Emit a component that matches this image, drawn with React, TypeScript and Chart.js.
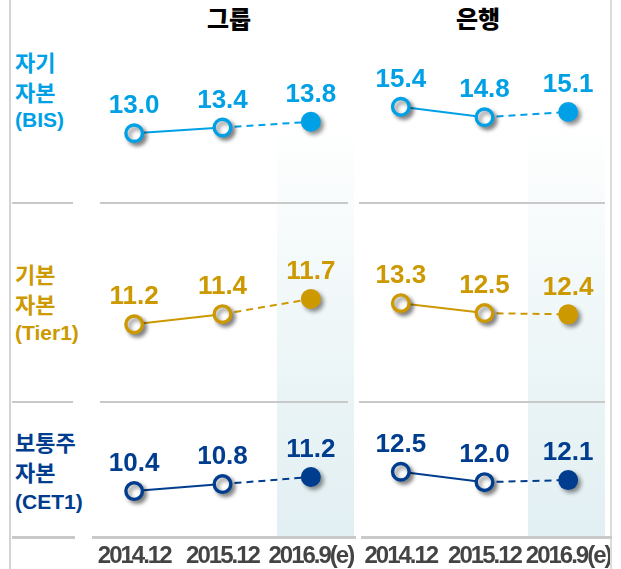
import React, { useEffect, useRef } from 'react';
import { Chart, registerables } from 'chart.js';

Chart.register(...registerables);

// ---- data ----
const periods = ['2014.12', '2015.12', '2016.9(e)'];
const columnTitles = ['그룹', '은행'];
const rowTitles = [
  ['자기', '자본', '(BIS)'],
  ['기본', '자본', '(Tier1)'],
  ['보통주', '자본', '(CET1)'],
];
const groupBIS = [13.0, 13.4, 13.8];
const bankBIS = [15.4, 14.8, 15.1];
const groupTier1 = [11.2, 11.4, 11.7];
const bankTier1 = [13.3, 12.5, 12.4];
const groupCET1 = [10.4, 10.8, 11.2];
const bankCET1 = [12.5, 12.0, 12.1];

// ---- styling / layout ----
const rowColors = ['#00a0e6', '#cc9900', '#003d8f'];
const rowBoxes = [
  { top: 30, height: 170 },
  { top: 210, height: 190 },
  { top: 410, height: 159 },
];
const colBoxes = [
  { left: 90, width: 265 },
  { left: 359, width: 251 },
];
// y-axis ranges per panel [row][col]
const yRanges = [
  [[8.36, 20.18], [10.07, 19.79]],
  [[9.71, 13.45], [5.47, 20.84]],
  [[7.89, 15.03], [9.45, 15.48]],
];
const panelValues = [
  [groupBIS, bankBIS],
  [groupTier1, bankTier1],
  [groupCET1, bankCET1],
];
const rowTitleCenters = [
  [61, 91, 120],
  [273, 303, 333],
  [441, 471, 502],
];

type PanelProps = {
  values: number[];
  color: string;
  yMin: number;
  yMax: number;
  left: number;
  top: number;
  width: number;
  height: number;
  showAxis: boolean;
};

function Panel(p: PanelProps) {
  const ref = useRef<HTMLCanvasElement>(null);
  useEffect(() => {
    const canvas = ref.current;
    if (!canvas) return;
    const last = p.values.length - 1;

    const shadowPlugin = {
      id: 'markerShadow',
      beforeDatasetDraw(chart: any, args: any) {
        if (args.index === 0) {
          const c = chart.ctx;
          c.save();
          c.shadowColor = 'rgba(0,0,0,0.45)';
          c.shadowBlur = 4;
          c.shadowOffsetX = 3;
          c.shadowOffsetY = 3;
        }
      },
      afterDatasetDraw(chart: any, args: any) {
        if (args.index === 0) chart.ctx.restore();
      },
    };
    const labelPlugin = {
      id: 'valueLabels',
      afterDatasetsDraw(chart: any) {
        const c = chart.ctx;
        const meta = chart.getDatasetMeta(0);
        c.save();
        c.letterSpacing = '0px';
        c.font = 'bold 26px "Liberation Sans", Arial, sans-serif';
        c.fillStyle = p.color;
        c.textAlign = 'center';
        c.textBaseline = 'middle';
        meta.data.forEach((el: any, i: number) => {
          c.fillText(p.values[i].toFixed(1), el.x, el.y - 27);
        });
        c.restore();
      },
    };
    const tightPlugin = {
      id: 'tightTicks',
      beforeDraw(chart: any) {
        chart.ctx.letterSpacing = '-2px';
      },
      afterDraw(chart: any) {
        chart.ctx.letterSpacing = '0px';
      },
    };

    const chart = new Chart(canvas, {
      type: 'line',
      data: {
        labels: periods,
        datasets: [
          {
            data: p.values,
            showLine: false,
            pointRadius: p.values.map((_, i) => (i === last ? 10 : 8.3)),
            pointHoverRadius: p.values.map((_, i) => (i === last ? 10 : 8.3)),
            pointBorderWidth: p.values.map((_, i) => (i === last ? 0 : 3.4)),
            pointBorderColor: p.color,
            pointBackgroundColor: p.values.map((_, i) => (i === last ? p.color : '#ffffff')),
            clip: false,
          } as any,
          {
            data: p.values,
            borderColor: p.color,
            borderWidth: 2,
            pointRadius: 0,
            fill: false,
            tension: 0,
            clip: false,
            segment: {
              borderDash: (ctx: any) => (ctx.p1DataIndex === last ? [7, 5] : undefined),
            },
          } as any,
        ],
      },
      options: {
        animation: false,
        responsive: false,
        devicePixelRatio: 1,
        events: [],
        layout: { padding: 0, autoPadding: false },
        plugins: { legend: { display: false }, tooltip: { enabled: false } },
        scales: {
          x: {
            type: 'category',
            offset: true,
            display: p.showAxis,
            grid: { display: false, drawTicks: false },
            border: { display: false },
            ticks: {
              color: '#444444',
              font: { family: '"Liberation Sans", Arial, sans-serif', size: 24, weight: 'bold' },
              padding: 7,
              maxRotation: 0,
              minRotation: 0,
              autoSkip: false,
            },
            afterFit: (s: any) => {
              if (p.showAxis) s.height = 34;
              s.paddingLeft = 0;
              s.paddingRight = 0;
            },
          },
          y: { display: false, min: p.yMin, max: p.yMax },
        },
      } as any,
      plugins: [shadowPlugin, labelPlugin, tightPlugin],
    });
    return () => chart.destroy();
  }, []);
  return (
    <canvas
      ref={ref}
      width={p.width}
      height={p.height}
      style={{ position: 'absolute', left: p.left, top: p.top, width: p.width, height: p.height, display: 'block' }}
    />
  );
}

const sepColor = '#c9c9c9';

export default function App() {
  const krFont = '"Noto Sans CJK KR", "Noto Sans", sans-serif';
  const latinFont = '"Liberation Sans", Arial, sans-serif';
  const hLines = [
    { y: 202, h: 2, segs: [[12, 73], [100, 348], [359, 605]] },
    { y: 401, h: 2, segs: [[12, 73], [100, 348], [359, 605]] },
    { y: 536, h: 3, segs: [[12, 75], [92, 356], [361, 612]] },
  ];
  return (
    <div
      style={{
        position: 'absolute',
        left: 0,
        top: 0,
        width: 621,
        height: 569,
        background: '#ffffff',
        overflow: 'hidden',
      }}
    >
      {/* estimate-period bands */}
      {[277, 528].map((x) => (
        <div
          key={'band' + x}
          style={{
            position: 'absolute',
            left: x,
            top: 120,
            width: 77,
            height: 417,
            background: 'linear-gradient(to bottom, #ffffff 0%, #eaf4f6 65%, #e2eff2 100%)',
          }}
        />
      ))}
      {/* borders */}
      <div style={{ position: 'absolute', left: 9, top: 0, width: 2, height: 569, background: '#d4d4d4' }} />
      <div style={{ position: 'absolute', left: 610, top: 0, width: 2, height: 569, background: '#dcdcdc' }} />
      {hLines.map((l, i) =>
        l.segs.map((s, j) => (
          <div
            key={'h' + i + '-' + j}
            style={{ position: 'absolute', left: s[0], top: l.y, width: s[1] - s[0], height: l.h, background: sepColor }}
          />
        ))
      )}
      {/* column titles */}
      {columnTitles.map((t, i) => (
        <div
          key={'ct' + i}
          style={{
            position: 'absolute',
            left: (i === 0 ? 229 : 478) - 60,
            top: 3,
            width: 120,
            lineHeight: '30px',
            textAlign: 'center',
            fontFamily: krFont,
            fontWeight: 900,
            fontSize: 24,
            color: '#000000',
          }}
        >
          {t}
        </div>
      ))}
      {/* row titles */}
      {rowTitles.map((lines, r) =>
        lines.map((txt, k) => (
          <div
            key={'rt' + r + '-' + k}
            style={{
              position: 'absolute',
              left: 15,
              top: rowTitleCenters[r][k] - 15,
              lineHeight: '30px',
              whiteSpace: 'nowrap',
              fontFamily: k === 2 ? latinFont : krFont,
              fontWeight: 'bold',
              fontSize: k === 2 ? 21 : 22,
              color: rowColors[r],
            }}
          >
            {txt}
          </div>
        ))
      )}
      {/* panels */}
      {panelValues.map((row, r) =>
        row.map((vals, c) => (
          <Panel
            key={'p' + r + '-' + c}
            values={vals}
            color={rowColors[r]}
            yMin={yRanges[r][c][0]}
            yMax={yRanges[r][c][1]}
            left={colBoxes[c].left}
            top={rowBoxes[r].top}
            width={colBoxes[c].width}
            height={rowBoxes[r].height}
            showAxis={r === 2}
          />
        ))
      )}
    </div>
  );
}
